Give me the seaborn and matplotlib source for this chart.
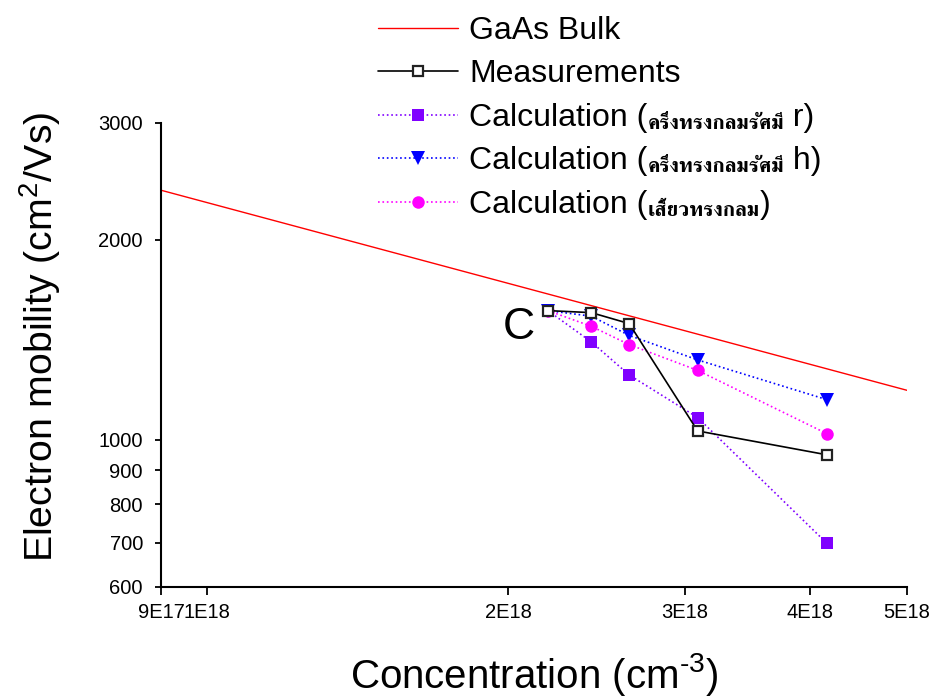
import matplotlib
matplotlib.use("Agg")
import matplotlib.pyplot as plt
import seaborn as sns
from matplotlib.ticker import FixedLocator, FixedFormatter, NullLocator
from matplotlib.text import Annotation

# Carrier concentration (cm^-3) of the samples and their electron mobilities (cm^2/Vs)
concentration = [2.19e18, 2.42e18, 2.64e18, 3.09e18, 4.16e18]
mobility_measured = [1565, 1554, 1496, 1031, 949]
mobility_hemisphere_r = [1565, 1404, 1252, 1080, 698]
mobility_hemisphere_h = [1565, 1535, 1436, 1319, 1149]
mobility_spherical_cap = [1565, 1482, 1391, 1272, 1021]

# Bulk GaAs reference line
bulk_concentration = [9e17, 5e18]
bulk_mobility = [2376, 1187]

x_ticks = [9e17, 1e18, 2e18, 3e18, 4e18, 5e18]
x_tick_labels = ["9E17", "1E18", "2E18", "3E18", "4E18", "5E18"]
y_ticks = [600, 700, 800, 900, 1000, 2000, 3000]
y_tick_labels = ["600", "700", "800", "900", "1000", "2000", "3000"]

thai_hemisphere = "ครึ่งทรงกลมรัศมี"
thai_cap = "เสี้ยวทรงกลม"

sns.set_theme(style="white")
plt.rcParams["font.family"] = ["Liberation Sans", "DejaVu Sans"]
plt.rcParams["mathtext.fontset"] = "custom"
plt.rcParams["mathtext.rm"] = "Liberation Sans"
for key in ["text.color", "axes.labelcolor", "xtick.color", "ytick.color",
            "xtick.labelcolor", "ytick.labelcolor"]:
    plt.rcParams[key] = "black"

fig = plt.figure(figsize=(9.32, 6.97), dpi=100)
ax = fig.add_axes([161 / 932, 1 - 587 / 697, 746 / 932, 464 / 697])
ax.set_xscale("log")
ax.set_yscale("log")

sns.lineplot(x=bulk_concentration, y=bulk_mobility, ax=ax, color="#FF0000",
             linewidth=1.0, estimator=None, sort=False, zorder=2)
h_bulk = ax.lines[-1]
sns.lineplot(x=concentration, y=mobility_hemisphere_r, ax=ax, color="#8000FF",
             linewidth=1.2, linestyle=":", marker="s", markersize=8,
             markeredgewidth=0, estimator=None, sort=False, zorder=3)
h_r = ax.lines[-1]
sns.lineplot(x=concentration, y=mobility_hemisphere_h, ax=ax, color="#0000FF",
             linewidth=1.2, linestyle=":", marker="v", markersize=10,
             markeredgewidth=0, estimator=None, sort=False, zorder=3)
h_h = ax.lines[-1]
sns.lineplot(x=concentration, y=mobility_spherical_cap, ax=ax, color="#FF00FF",
             linewidth=1.2, linestyle=":", marker="o", markersize=9,
             markeredgewidth=0, estimator=None, sort=False, zorder=3)
h_cap = ax.lines[-1]
sns.lineplot(x=concentration, y=mobility_measured, ax=ax, color="#000000",
             linewidth=1.2, marker="s", markersize=7.5, markerfacecolor="white",
             markeredgecolor="#222222", markeredgewidth=1.6,
             estimator=None, sort=False, zorder=5)
h_meas = ax.lines[-1]

ax.set_xlim(9e17, 5e18)
ax.set_ylim(600, 3000)
ax.xaxis.set_major_locator(FixedLocator(x_ticks))
ax.xaxis.set_major_formatter(FixedFormatter(x_tick_labels))
ax.xaxis.set_minor_locator(NullLocator())
ax.yaxis.set_major_locator(FixedLocator(y_ticks))
ax.yaxis.set_major_formatter(FixedFormatter(y_tick_labels))
ax.yaxis.set_minor_locator(NullLocator())
ax.tick_params(axis="both", which="major", direction="out", width=1.3,
               color="black", labelsize=14.5, labelcolor="black",
               bottom=True, left=True, top=False, right=False)
ax.tick_params(axis="x", length=5.5, pad=6)
ax.tick_params(axis="y", length=4.5, pad=8.5)

for side in ["top", "right"]:
    ax.spines[side].set_visible(False)
for side in ["left", "bottom"]:
    ax.spines[side].set_color("black")
    ax.spines[side].set_linewidth(1.5)
ax.patch.set_alpha(0)

ax.set_xlabel(r"Concentration (cm$^{\text{-3}}$)", fontsize=29, color="black", labelpad=21)
ax.set_ylabel(r"Electron mobility (cm$^{2}$/Vs)", fontsize=28.3, color="black")
ax.yaxis.set_label_coords(-0.131, 0.54)

ax.text(2.05e18, 1478, "C", fontsize=32, ha="center", va="center", color="black")

handles = [h_bulk, h_meas, h_r, h_h, h_cap]
labels = ["GaAs Bulk", "Measurements", "Calculation (", "Calculation (", "Calculation ("]
leg = fig.legend(handles, labels, loc="upper left", bbox_to_anchor=(378 / 932, 0.977),
                 frameon=False, fontsize=23, handlelength=2.5, handletextpad=0.35,
                 labelspacing=0.42, borderpad=0, borderaxespad=0, numpoints=1)

# Thai descriptions appended after "Calculation (" in the last three entries
suffixes = [
    [(thai_hemisphere, "thai"), (" r)", "latin")],
    [(thai_hemisphere, "thai"), (" h)", "latin")],
    [(thai_cap, "thai"), (")", "latin")],
]
for text_obj, pieces in zip(leg.get_texts()[2:], suffixes):
    prev = text_obj
    for piece, kind in pieces:
        if kind == "thai":
            ann = Annotation(piece, xy=(1, 0), xycoords=prev, xytext=(0, 0),
                             textcoords="offset points", ha="left", va="bottom",
                             fontsize=15, fontweight="bold",
                             family=["FreeSerif", "DejaVu Sans"], zorder=10)
        else:
            ann = Annotation(piece, xy=(1, 0), xycoords=prev, xytext=(0, 0),
                             textcoords="offset points", ha="left", va="bottom",
                             fontsize=23, family=["Liberation Sans", "DejaVu Sans"],
                             zorder=10)
        fig.add_artist(ann)
        prev = ann

fig.savefig("out.png", dpi=100)
